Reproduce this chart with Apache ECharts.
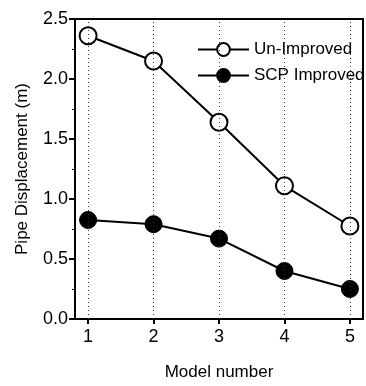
<!DOCTYPE html>
<html><head><meta charset="utf-8">
<script src="https://cdn.jsdelivr.net/npm/echarts@6/dist/echarts.min.js"></script>
<style>html,body{margin:0;padding:0;background:#fff}#c{width:366px;height:386px}</style>
</head><body><div id="c"></div>
<script>
const models = [1, 2, 3, 4, 5];
const unImproved = [2.36, 2.15, 1.64, 1.11, 0.775];
const scpImproved = [0.825, 0.79, 0.67, 0.40, 0.25];

const FONT = '"Liberation Sans", Arial, sans-serif';
const chart = echarts.init(document.getElementById('c'));
chart.setOption({
  animation: false,
  backgroundColor: '#fff',
  grid: { left: 75, right: 3, top: 19, bottom: 67, show: true, borderColor: '#000', borderWidth: 2, backgroundColor: 'transparent' },
  legend: {
    orient: 'vertical', left: 192, top: 36, itemGap: 9, itemWidth: 51, itemHeight: 16,
    textStyle: { fontFamily: FONT, fontSize: 17, color: '#000' },
    data: ['Un-Improved', 'SCP Improved']
  },
  xAxis: {
    type: 'value', min: 0.8, max: 5.2,
    name: 'Model number', nameLocation: 'middle', nameGap: 45,
    nameTextStyle: { fontFamily: FONT, fontSize: 17, color: '#000' },
    axisLine: { lineStyle: { color: '#000', width: 2 } },
    axisTick: { show: true, length: 5, customValues: models, lineStyle: { color: '#000', width: 2 } },
    axisLabel: { customValues: models, fontFamily: FONT, fontSize: 18, color: '#000', margin: 9, formatter: v => String(v) },
    splitLine: { show: false }
  },
  yAxis: {
    type: 'value', min: 0, max: 2.5, interval: 0.5,
    name: 'Pipe Displacement (m)', nameLocation: 'middle', nameGap: 44,
    nameTextStyle: { fontFamily: FONT, fontSize: 17, color: '#000' },
    axisLine: { show: true, lineStyle: { color: '#000', width: 2 } },
    axisTick: { show: true, length: 6, lineStyle: { color: '#000', width: 2 } },
    minorTick: { show: true, splitNumber: 2, length: 3, lineStyle: { color: '#000', width: 1 } },
    axisLabel: { fontFamily: FONT, fontSize: 18, color: '#000', margin: 7, formatter: v => v.toFixed(1) },
    splitLine: { show: false }
  },
  series: [
    {
      name: 'grid', type: 'line', data: [], z: 1, silent: true,
      markLine: {
        symbol: 'none', silent: true, label: { show: false },
        lineStyle: { color: '#333', width: 1, type: [1, 3] },
        data: models.map(m => ({ xAxis: m }))
      }
    },
    {
      name: 'Un-Improved', type: 'line', z: 3,
      data: models.map((m, i) => [m, unImproved[i]]),
      symbol: 'circle', symbolSize: 17,
      lineStyle: { color: '#000', width: 2 },
      itemStyle: { color: '#fff', borderColor: '#000', borderWidth: 2 }
    },
    {
      name: 'SCP Improved', type: 'line', z: 3,
      data: models.map((m, i) => [m, scpImproved[i]]),
      symbol: 'circle', symbolSize: 17,
      lineStyle: { color: '#000', width: 2 },
      itemStyle: { color: '#000', borderColor: '#000', borderWidth: 1 }
    }
  ]
});
</script></body></html>
